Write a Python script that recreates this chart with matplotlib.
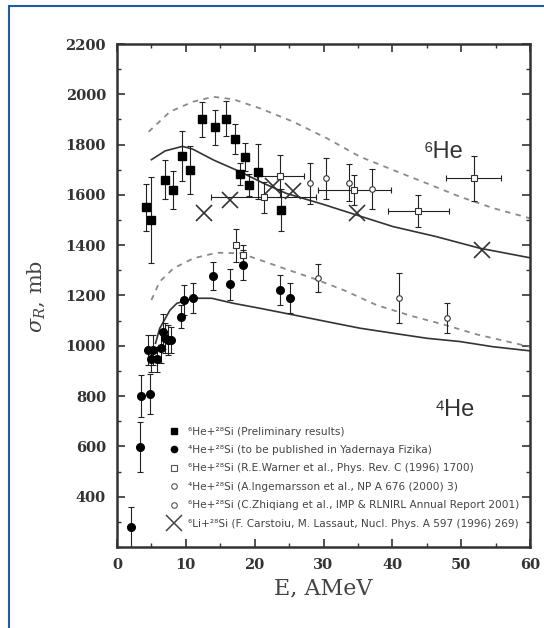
import matplotlib.pyplot as plt
from matplotlib.lines import Line2D
from matplotlib.patches import Rectangle
from matplotlib.ticker import MultipleLocator

plt.rcParams['mathtext.fontset'] = 'dejavuserif'

# 6He+28Si preliminary results (filled squares)
sq6_x = [4.2, 4.9, 7.0, 8.1, 9.5, 10.6, 12.4, 14.2, 15.8, 17.2, 18.6, 17.8, 19.2, 20.5, 23.8]
sq6_y = [1550, 1500, 1660, 1620, 1755, 1700, 1900, 1868, 1903, 1822, 1750, 1683, 1640, 1692, 1540]
sq6_err = [95, 170, 78, 75, 100, 95, 70, 70, 70, 60, 55, 45, 45, 110, 85]

# 4He+28Si to be published (filled circles)
c4_x = [2.0, 3.3, 3.5, 4.8, 4.5, 5.3, 5.0, 5.8, 6.4, 6.7, 7.0, 7.4, 7.9, 9.3, 9.7, 11.1, 13.9, 16.4, 18.35, 23.7, 25.1]
c4_y = [280, 598, 800, 808, 983, 983, 946, 946, 990, 1056, 1030, 1023, 1023, 1116, 1182, 1191, 1279, 1244, 1321, 1222, 1189]
c4_err = [80, 100, 82, 80, 60, 60, 50, 50, 60, 70, 60, 60, 50, 45, 60, 60, 56, 62, 60, 60, 60]

# Warner et al. (open squares)
w6_x = [21.3, 23.7, 34.5, 43.8, 51.8]
w6_y = [1590, 1675, 1620, 1537, 1666]
w6_xerr = [7.6, 3.4, 5.3, 4.4, 4.0]
w6_yerr = [60, 85, 60, 63, 90]
w4_x = [17.3, 18.3]
w4_y = [1400, 1361]
w4_yerr = [65, 40]

# Ingemarsson et al. (open circles, 4He)
ing_x = [29.25, 40.9, 47.9]
ing_y = [1268, 1189, 1109]
ing_err = [56, 100, 60]

# Zhiqiang et al. (open circles, 6He)
zq_x = [28.0, 30.4, 33.7, 37.1]
zq_y = [1646, 1666, 1649, 1622]
zq_err = [82, 82, 75, 80]

# Carstoiu, Lassaut (crosses)
cl_x = [12.6, 16.4, 22.6, 25.5, 34.8, 53.0]
cl_y = [1530, 1580, 1636, 1616, 1527, 1380]

# calculated curves
he6_solid_x = [5.0, 7.0, 9.5, 11.0, 14.0, 17.9, 21.3, 24.6, 30.0, 34.8, 40.1, 46.4, 52.7, 60.0]
he6_solid_y = [1740, 1775, 1793, 1782, 1739, 1692, 1646, 1606, 1562, 1520, 1474, 1434, 1388, 1350]
he6_dash_x = [4.6, 7.7, 11.1, 14.0, 16.9, 20.8, 25.6, 30.5, 35.3, 40.1, 45.0, 49.8, 54.7, 60.0]
he6_dash_y = [1851, 1931, 1971, 1990, 1980, 1944, 1891, 1825, 1752, 1699, 1646, 1593, 1547, 1507]
he4_solid_x = [5.6, 6.2, 7.7, 8.7, 11.1, 13.75, 16.9, 20.8, 25.6, 30.5, 35.3, 40.1, 45.0, 49.8, 54.7, 60.0]
he4_solid_y = [1010, 1069, 1142, 1169, 1189, 1189, 1169, 1149, 1123, 1096, 1070, 1050, 1030, 1017, 996, 980]
he4_dash_x = [5.0, 6.2, 8.2, 11.1, 14.5, 17.9, 20.8, 25.6, 28.5, 32.9, 37.7, 42.6, 47.4, 52.3, 60.0]
he4_dash_y = [1182, 1255, 1308, 1348, 1370, 1368, 1341, 1295, 1268, 1222, 1162, 1120, 1085, 1045, 996]

legend_labels = [
    '⁶He+²⁸Si (Preliminary results)',
    '⁴He+²⁸Si (to be published in Yadernaya Fizika)',
    '⁶He+²⁸Si (R.E.Warner et al., Phys. Rev. C (1996) 1700)',
    '⁴He+²⁸Si (A.Ingemarsson et al., NP A 676 (2000) 3)',
    '⁶He+²⁸Si (C.Zhiqiang et al., IMP & RLNIRL Annual Report 2001)',
    '⁶Li+²⁸Si (F. Carstoiu, M. Lassaut, Nucl. Phys. A 597 (1996) 269)',
]

fig = plt.figure(figsize=(5.44, 6.28), dpi=100)
ax = fig.add_axes([117 / 544, 1 - 547 / 628, 413 / 544, 503 / 628])

ax.plot(he6_dash_x, he6_dash_y, color='#8a8a8a', lw=1.3, ls=(0, (3, 3)))
ax.plot(he4_dash_x, he4_dash_y, color='#8a8a8a', lw=1.3, ls=(0, (3, 3)))
ax.plot(he6_solid_x, he6_solid_y, color='#333333', lw=1.2)
ax.plot(he4_solid_x, he4_solid_y, color='#333333', lw=1.2)

eb = dict(ecolor='#222222', elinewidth=0.8, capsize=2, capthick=0.8, ls='none')
ax.errorbar(sq6_x, sq6_y, yerr=sq6_err, marker='s', ms=5.5, mfc='black', mec='black', **eb)
ax.errorbar(c4_x, c4_y, yerr=c4_err, marker='o', ms=5.5, mfc='black', mec='black', **eb)
ax.errorbar(w6_x, w6_y, xerr=w6_xerr, yerr=w6_yerr, marker='s', ms=4, mfc='white', mec='#333333', mew=0.8, **eb)
ax.errorbar(w4_x, w4_y, yerr=w4_yerr, marker='s', ms=4, mfc='white', mec='#333333', mew=0.8, **eb)
ax.errorbar(ing_x, ing_y, yerr=ing_err, marker='o', ms=4, mfc='white', mec='#333333', mew=0.8, **eb)
ax.errorbar(zq_x, zq_y, yerr=zq_err, marker='o', ms=4, mfc='white', mec='#333333', mew=0.8, **eb)
ax.plot(cl_x, cl_y, 'x', ms=12, mew=1.2, color='#333333', ls='none')

handles = [
    Line2D([], [], marker='s', ms=4.5, mfc='black', mec='black', ls='none'),
    Line2D([], [], marker='o', ms=4.5, mfc='black', mec='black', ls='none'),
    Line2D([], [], marker='s', ms=4, mfc='white', mec='#555555', mew=0.8, ls='none'),
    Line2D([], [], marker='o', ms=4, mfc='white', mec='#555555', mew=0.8, ls='none'),
    Line2D([], [], marker='o', ms=4, mfc='white', mec='#555555', mew=0.8, ls='none'),
    Line2D([], [], marker='x', ms=11, mew=1.1, color='#444444', ls='none'),
]
leg = ax.legend(handles, legend_labels, loc='upper left', bbox_to_anchor=(0.11, 0.25),
                frameon=False, prop={'family': 'DejaVu Sans', 'size': 7.6},
                labelspacing=0.8, handlelength=1.2, handletextpad=0.7, borderpad=0)
for t in leg.get_texts():
    t.set_color('#444444')

ax.text(44.5, 1771, '⁶He', fontsize=17, family=['Liberation Sans', 'DejaVu Sans'], color='#333333', va='center')
ax.text(46.2, 745, '⁴He', fontsize=17, family=['Liberation Sans', 'DejaVu Sans'], color='#333333', va='center')

ax.set_xlim(0, 60)
ax.set_ylim(200, 2200)
ax.xaxis.set_major_locator(MultipleLocator(10))
ax.xaxis.set_minor_locator(MultipleLocator(5))
ax.yaxis.set_major_locator(MultipleLocator(200))
ax.yaxis.set_minor_locator(MultipleLocator(100))
ax.tick_params(which='both', direction='in', top=True, right=True, color='#333333')
ax.tick_params(which='major', length=6, width=1.2, pad=8)
ax.tick_params(which='minor', length=3, width=1.0)
ax.set_yticks(range(400, 2201, 200))
for lab in ax.get_xticklabels() + ax.get_yticklabels():
    lab.set_family('DejaVu Serif')
    lab.set_weight('bold')
    lab.set_fontsize(10.5)
    lab.set_color('#333333')
for s in ax.spines.values():
    s.set_linewidth(1.8)
    s.set_color('#333333')

fig.text(323 / 544, 1 - 588 / 628, 'E, AMeV', fontsize=16, family='DejaVu Serif', color='#444444',
         ha='center', va='center')
fig.text(36 / 544, 1 - 296 / 628, r'$\sigma_R$, mb', fontsize=15, family='DejaVu Serif', color='#444444',
         ha='center', va='center', rotation=90)

fig.patches.append(Rectangle((9 / 544, -0.1), 1.2, 1 - 6 / 628 + 0.1, transform=fig.transFigure,
                             fill=False, ec='#1f5aa6', lw=1.5))

fig.savefig('out.png', dpi=100)
